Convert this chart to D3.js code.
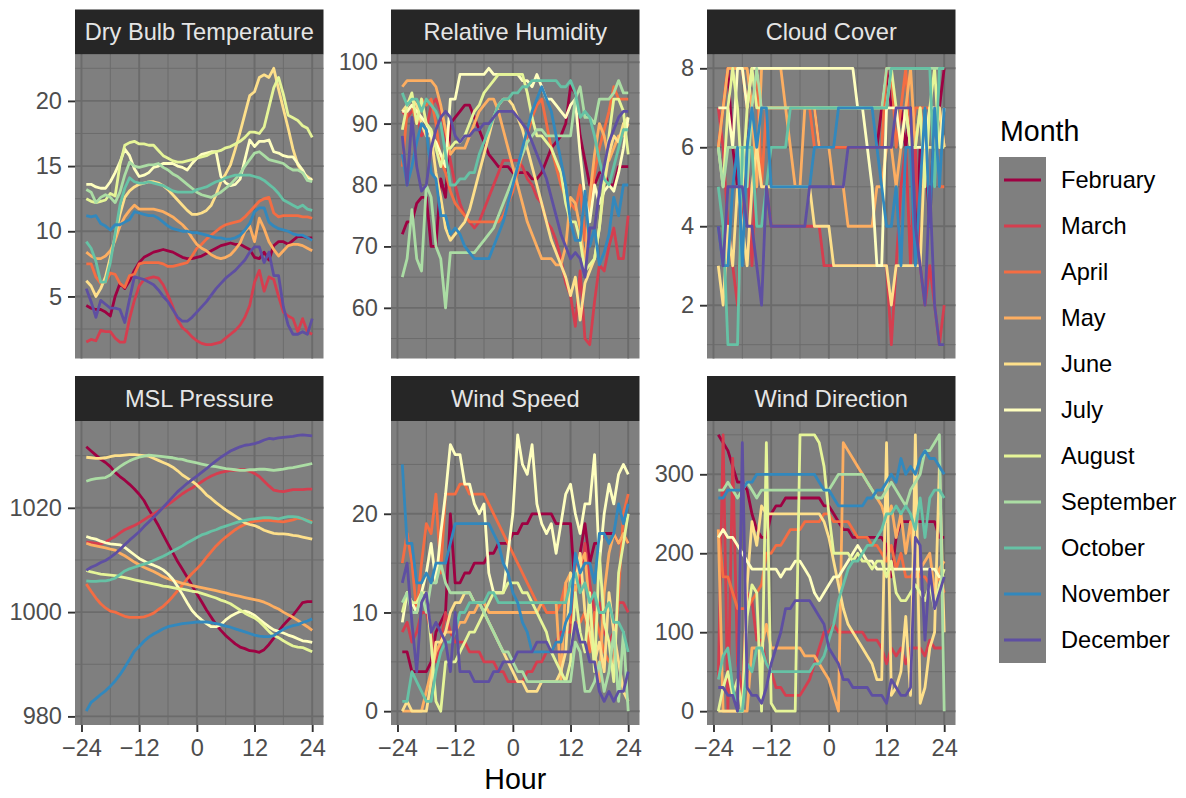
<!DOCTYPE html>
<html>
<head>
<meta charset="utf-8">
<title>Hourly weather by month</title>
<script src="https://cdn.jsdelivr.net/npm/d3@7"></script>
<style>
body { margin: 0; background: #fff; }
svg text { font-family: 'Liberation Sans', Arial, sans-serif; }
</style>
</head>
<body>
<svg width="1186" height="798"></svg>

<script>

var hours = [-23,-22,-21,-20,-19,-18,-17,-16,-15,-14,-13,-12,-11,-10,-9,-8,-7,-6,-5,-4,-3,-2,-1,0,
             1,2,3,4,5,6,7,8,9,10,11,12,13,14,15,16,17,18,19,20,21,22,23,24];

var months = ["February","March","April","May","June","July","August","September","October","November","December"];
var monthColors = ["#9E0142","#D53E4F","#F46D43","#FDAE61","#FEE08B","#FFFFBF","#E6F598","#ABDDA4","#66C2A5","#3288BD","#5E4FA2"];

var variableNames = ["Dry Bulb Temperature","Relative Humidity","Cloud Cover","MSL Pressure","Wind Speed","Wind Direction"];
var yTicks = [[5,10,15,20],[60,70,80,90,100],[2,4,6,8],[980,1000,1020],[0,10,20],[0,100,200,300]];
var xTicks = [-24,-12,0,12,24];

// one row per month (Feb..Dec), one value per hour
var dryBulb = [
 [4.3,4.1,4.0,4.0,3.8,3.5,5.0,6.0, 5.6,6.2,7.0,7.6,8.0,8.2,8.4,8.5, 8.6,8.5,8.4,8.2,8.0,7.9,7.9,8.0, 8.1,8.3,8.5,8.7,8.9,9.0,9.1,9.0, 9.0,8.8,8.6,8.0,7.9,8.4,7.8,8.9, 9.2,9.2,9.0,9.3,9.6,9.6,9.5,9.5],
 [1.5,1.7,1.6,2.4,2.3,2.3,1.8,1.5, 1.5,3.3,4.7,5.8,6.3,6.4,6.5,6.4, 5.9,5.1,4.2,3.2,2.6,2.3,1.9,1.6, 1.4,1.3,1.3,1.4,1.5,1.8,2.1,2.4, 2.8,3.4,4.3,6.1,7.0,5.4,6.5,6.3, 5.0,3.8,3.5,3.3,2.3,3.3,2.3,2.1],
 [7.5,7.5,6.5,6.0,6.1,6.8,6.7,6.0, 5.7,6.6,6.7,7.5,7.6,7.6,7.6,7.6, 7.5,7.3,7.3,7.4,7.5,7.6,8.1,8.7, 9.0,9.4,9.7,10.0,10.3,10.5,10.6,10.7, 10.8,11.1,11.5,11.9,12.3,12.5,12.6,11.4, 11.1,11.2,11.2,11.2,11.2,11.1,11.1,11.0],
 [8.4,8.1,7.9,7.9,8.1,8.5,9.3,10.4, 11.1,11.6,12.0,11.7,11.7,11.7,11.7,11.6, 11.5,11.3,11.1,10.8,10.5,10.1,9.5,9.0, 8.7,8.5,8.2,8.0,7.9,8.0,8.2,8.6, 9.1,10.0,10.4,9.2,11.0,10.2,9.2,8.6, 8.1,8.5,8.9,9.0,9.0,8.9,8.7,8.5],
 [6.2,5.8,5.0,5.6,6.5,8.0,9.6,11.3, 12.6,13.1,13.4,13.6,13.7,13.8,13.8,13.7, 13.5,13.2,12.8,12.4,12.0,11.6,11.3,11.3, 11.4,11.6,12.0,12.8,13.8,14.4,15.1,16.3, 17.6,19.0,20.4,20.7,21.8,22.0,21.8,22.5, 20.9,19.4,17.9,16.3,15.1,14.5,14.2,13.9],
 [13.6,13.6,13.4,13.3,13.3,13.8,14.5,15.3, 16.3,15.8,14.8,14.2,14.3,14.5,14.9,15.0, 15.2,15.2,15.2,15.0,14.9,14.7,15.2,15.6, 15.9,16.0,16.1,16.1,14.2,13.7,13.5,13.6, 14.0,15.5,17.0,16.5,16.9,16.9,17.0,16.1, 16.0,15.8,15.7,15.7,15.2,14.7,14.0,14.0],
 [12.5,12.3,12.2,12.3,12.4,12.9,12.7,15.1, 16.6,16.8,16.9,16.7,16.7,16.6,16.6,16.2, 15.8,15.6,15.4,15.3,15.3,15.4,15.5,15.6, 15.7,15.8,16.0,16.1,16.2,16.4,16.5,16.7, 16.9,17.2,17.6,17.6,17.5,18.0,19.5,21.0, 21.8,20.5,18.9,18.7,18.5,18.1,17.9,17.2],
 [13.2,13.0,12.2,12.6,12.8,12.6,12.2,13.0, 14.3,15.3,15.0,14.9,15.0,15.1,15.1,15.2, 14.9,14.7,14.4,14.2,13.9,13.6,13.3,13.0, 12.8,12.7,12.6,12.8,13.0,13.3,13.6,14.0, 14.4,15.0,15.5,16.0,16.1,15.8,15.5,15.4, 15.3,15.2,14.9,14.7,14.7,14.5,13.9,13.8],
 [9.2,8.7,7.7,6.1,6.1,7.6,9.8,12.0, 13.3,14.1,13.8,13.7,13.7,13.8,13.7,13.6, 13.5,13.3,13.1,13.0,13.0,13.0,13.0,13.2, 13.3,13.4,13.6,13.8,13.9,14.1,14.2,14.3, 14.3,14.3,14.3,14.2,14.1,13.9,13.6,13.3, 12.9,12.4,12.2,12.0,11.8,12.0,11.7,11.6],
 [11.2,11.1,11.2,10.6,10.4,10.1,10.5,10.5, 10.7,10.9,11.5,11.4,11.3,11.2,11.2,11.0, 10.7,10.4,10.2,10.1,10.0,10.0,9.9,9.9, 9.8,9.7,9.6,9.5,9.5,9.4,9.4,9.5, 9.7,10.1,10.6,11.5,11.8,11.8,10.7,10.4, 10.2,10.1,10.0,9.8,9.7,9.7,9.5,9.3],
 [5.6,4.6,3.4,4.7,4.4,4.1,4.1,4.0, 3.0,4.8,6.5,6.4,6.3,6.1,5.9,5.5, 5.0,4.6,4.0,3.4,3.1,3.1,3.4,3.8, 4.2,4.6,5.1,5.6,6.0,6.4,6.7,7.0, 7.4,7.8,8.4,8.8,8.8,7.6,8.4,6.6, 6.6,4.2,2.8,2.1,2.1,2.3,2.1,3.3]
];

var humidity = [
 [72,74,74,77,78,78,70,70, 81,78,90,91,92,93,93,91, 89,87,85,84,83,83,83,82, 82,82,82,81,81,82,84,86, 87,88,90,96,95,88,84,80, 80,82,82,80,80,83,83,83],
 [92,91,92,92,88,89,93,94, 92,88,84,80,77,75,74,73, 74,76,78,80,82,84,84,84, 84,83,81,80,78,77,74,73, 71,68,64,62,57,66,55,54, 61,67,66,70,73,68,68,75],
 [83,92,93,90,94,93,94,90, 84,82,79,77,76,75,74,74, 74,74,74,74,74,75,77,79, 82,85,88,91,93,94,90,86, 83,80,78,77,76,80,71,76, 82,86,89,92,96,94,94,94],
 [96,97,97,97,97,97,97,96, 93,89,85,86,86,86,88,90, 92,93,94,94,92,89,86,83, 80,77,74,72,70,68,68,68, 67,67,70,78,77,73,67,78, 85,90,88,84,86,88,88,90],
 [92,93,94,93,90,88,88,82, 78,73,71,72,73,74,76,79, 82,85,88,91,93,94,94,93, 91,89,86,83,80,77,74,71, 69,67,65,62,65,58,64,66, 68,73,80,85,88,87,90,91],
 [92,92,93,92,91,90,88,87, 85,83,94,94,98,98,98,98, 98,98,99,98,98,98,98,98, 98,97,97,96,98,96,94,94, 93,92,91,93,94,85,78,74, 80,77,79,80,79,82,86,91],
 [89,93,95,90,94,90,89,86, 83,86,86,87,87,88,90,92, 93,95,96,97,98,98,98,98, 98,98,95,91,88,88,87,86, 84,82,77,74,74,71,66,67, 68,73,81,88,94,94,92,85],
 [65,68,76,68,66,80,78,70, 68,60,69,69,69,69,69,69, 70,71,72,73,75,77,79,81, 83,85,87,88,89,89,88,88, 88,88,88,88,94,96,91,91, 90,94,94,94,95,97,95,95],
 [95,93,94,94,92,94,93,92, 90,85,80,80,81,81,82,82, 85,87,89,91,93,94,94,95, 95,96,96,97,97,97,97,97, 97,96,96,97,95,91,92,91, 88,84,81,80,83,86,89,89],
 [85,80,83,87,90,89,82,81, 75,75,72,73,72,70,69,68, 68,68,68,70,72,74,77,80, 83,86,89,92,94,96,94,92, 88,84,80,74,71,71,79,70, 73,67,69,72,78,75,80,80],
 [88,80,91,83,79,80,86,89, 91,92,91,88,87,88,88,89, 89,90,90,91,92,92,92,92, 91,90,89,87,85,83,81,78, 75,72,70,68,69,68,65,73, 73,79,83,87,89,91,92,92]
];

var cloudCover = [
 [6,7,8,6,5,4,6,7, 8,7,7,7,7,7,7,7, 7,7,7,7,7,6,6,6, 6,6,6,6,6,6,6,6, 6,6,7,8,7,7,7,6, 7,3,6,6,4,7,7,8],
 [7,6,4,3,2,5,6,3, 6,5,5,4,4,4,4,4, 4,4,4,4,4,4,3,3, 3,3,3,3,3,3,3,3, 3,3,3,3,1,3,5,6, 3,6,3,2,3,2,1,2],
 [6,7,8,8,8,8,7,8, 8,5,7,7,7,7,7,7, 7,7,7,7,6,6,6,6, 6,6,6,6,6,6,6,6, 6,6,6,8,8,6,7,8, 6,7,7,7,7,7,5,5],
 [6,7,8,8,8,8,8,7, 5,8,8,8,8,8,7,6, 5,5,7,7,7,6,6,6, 5,5,5,4,4,4,4,4, 4,5,5,6,6,5,6,7, 8,6,7,6,7,7,7,6],
 [3,2,4,3,5,4,3,5, 6,5,5,5,5,5,5,5, 5,5,5,5,4,4,4,4, 3,3,3,3,3,3,3,3, 3,3,3,3,2,3,3,3, 3,3,3,6,6,6,7,6],
 [7,7,7,6,8,8,7,8, 8,8,8,8,8,8,8,8, 8,8,8,8,8,8,8,8, 8,8,8,8,8,7,7,6, 5,3,3,7,7,7,6,7, 6,6,6,6,7,7,6,7],
 [6,5,7,8,7,5,7,8, 7,7,7,7,7,7,7,7, 7,7,7,7,7,7,7,7, 7,7,7,7,7,7,7,7, 7,7,7,7,8,7,7,7, 6,6,7,5,7,8,6,6],
 [6,5,6,6,6,6,5,7, 8,7,7,7,7,7,7,7, 7,7,7,7,7,7,7,7, 7,7,7,7,7,7,7,7, 7,7,7,8,8,8,8,8, 8,8,8,8,8,8,8,8],
 [5,4,1,1,1,6,6,6, 4,4,5,6,6,6,6,7, 7,7,7,7,7,7,7,7, 7,7,7,7,7,7,7,7, 7,7,7,7,8,8,8,8, 8,8,8,8,8,5,8,8],
 [4,3,3,5,6,3,6,7, 6,7,7,5,5,5,5,5, 5,5,5,5,6,6,6,6, 6,7,7,7,7,7,7,7, 7,6,5,4,4,5,3,6, 6,3,5,7,4,7,5,7],
 [4,3,5,5,5,5,4,4, 3,2,5,4,4,4,4,4, 4,4,4,5,5,5,5,5, 5,5,5,6,6,6,6,6, 6,6,6,6,6,7,7,7, 7,4,3,2,5,2,1,1]
];

var mslPressure = [
 [1031.7,1030.9,1030.1,1029.3,1028.7,1027.9,1026.8,1026.0, 1025.3,1024.5,1023.6,1022.6,1021.4,1019.7,1018.2,1016.6, 1014.8,1013.1,1011.4,1009.7,1008.2,1006.7,1005.1,1003.5, 1002.0,1000.4,999.0,997.6,996.5,995.5,994.7,993.9, 993.3,993.0,992.6,992.5,992.3,992.8,993.8,995.0, 996.3,997.5,998.5,999.4,1000.6,1001.8,1002.0,1002.0],
 [1013.4,1013.3,1013.2,1013.1,1013.4,1014.0,1014.5,1015.2, 1015.8,1016.2,1016.6,1017.1,1017.7,1018.3,1018.8,1019.4, 1020.0,1020.6,1021.3,1022.0,1022.7,1023.3,1023.8,1024.4, 1025.0,1025.6,1026.1,1026.5,1026.8,1027.0,1027.2,1027.2, 1027.3,1027.3,1027.0,1026.6,1026.0,1025.1,1024.2,1023.4, 1023.2,1023.1,1023.3,1023.5,1023.5,1023.5,1023.6,1023.6],
 [1005.4,1004.0,1002.7,1001.6,1000.8,1000.2,1000.0,999.6, 999.2,999.0,999.0,999.0,999.1,999.4,999.8,1000.5, 1001.1,1002.0,1003.0,1004.1,1005.2,1006.4,1007.4,1008.3, 1009.3,1010.5,1011.6,1012.7,1013.6,1014.4,1015.1,1015.8, 1016.4,1016.8,1017.2,1017.4,1017.5,1017.6,1017.6,1017.5, 1017.4,1017.3,1017.5,1017.7,1018.0,1017.9,1017.6,1017.3],
 [1013.2,1012.9,1012.7,1012.5,1012.3,1012.1,1011.9,1011.3, 1010.8,1010.2,1009.6,1009.1,1008.6,1008.2,1007.8,1007.3, 1006.8,1006.4,1006.1,1005.8,1005.5,1005.3,1005.1,1004.9, 1004.7,1004.5,1004.3,1004.1,1003.9,1003.7,1003.4,1003.2, 1003.0,1002.8,1002.6,1002.4,1002.2,1001.9,1001.5,1001.0, 1000.6,1000.0,999.5,999.0,998.4,997.8,997.2,996.5],
 [1029.7,1029.6,1029.5,1029.5,1029.6,1029.8,1030.0,1030.0, 1030.1,1030.2,1030.2,1030.1,1030.0,1029.9,1029.5,1029.1, 1028.7,1028.3,1027.8,1027.1,1026.3,1025.7,1025.1,1024.4, 1023.5,1022.5,1021.8,1021.0,1020.3,1019.6,1019.0,1018.4, 1017.8,1017.1,1016.8,1016.6,1016.2,1015.7,1015.4,1015.1, 1015.0,1015.0,1014.9,1014.7,1014.6,1014.4,1014.2,1014.0],
 [1014.5,1014.2,1014.0,1013.6,1013.3,1013.1,1013.0,1012.9, 1012.4,1011.7,1011.0,1010.3,1009.8,1009.3,1009.0,1008.6, 1008.1,1007.3,1006.3,1004.9,1003.4,1001.8,1000.3,999.3, 998.5,997.8,997.2,997.2,997.6,998.5,999.2,999.7, 1000.1,1000.2,999.9,999.4,998.6,997.9,997.2,996.6, 996.3,996.0,995.6,995.3,994.9,994.5,994.4,994.2],
 [1008.0,1007.7,1007.5,1007.3,1007.2,1007.1,1007.0,1006.8, 1006.6,1006.4,1006.2,1006.0,1005.8,1005.6,1005.4,1005.2, 1005.0,1004.9,1004.7,1004.5,1004.4,1004.2,1004.0,1003.9, 1003.6,1003.3,1003.0,1002.7,1002.3,1002.0,1001.6,1001.0, 1000.4,999.8,999.3,998.9,998.2,997.3,996.3,995.5, 995.1,994.5,994.0,993.5,993.3,993.2,992.8,992.4],
 [1025.1,1025.4,1025.6,1025.7,1025.8,1026.3,1027.2,1027.9, 1028.5,1029.0,1029.4,1029.7,1029.9,1030.1,1030.0,1029.9, 1029.8,1029.7,1029.6,1029.4,1029.3,1029.0,1028.8,1028.6, 1028.4,1028.2,1028.0,1027.9,1027.7,1027.5,1027.4,1027.3, 1027.2,1027.2,1027.3,1027.3,1027.4,1027.4,1027.3,1027.2, 1027.3,1027.4,1027.6,1027.7,1027.9,1028.1,1028.3,1028.5],
 [1006.0,1005.9,1005.9,1006.0,1006.0,1006.2,1006.5,1007.2, 1007.9,1008.3,1008.6,1008.9,1009.2,1009.5,1009.9,1010.3, 1010.7,1011.2,1011.7,1012.2,1012.7,1013.3,1013.8,1014.3, 1014.8,1015.1,1015.5,1015.8,1016.2,1016.5,1016.8,1017.1, 1017.4,1017.6,1017.8,1017.9,1018.0,1018.1,1018.1,1018.0, 1017.9,1018.1,1018.3,1018.3,1018.2,1017.9,1017.5,1017.1],
 [981.0,982.7,983.4,984.2,984.9,985.8,986.8,988.0, 989.4,990.9,992.5,993.4,994.4,995.2,995.8,996.3, 996.8,997.2,997.4,997.6,997.8,997.9,998.0,998.1, 998.1,998.1,998.0,997.8,997.6,997.3,997.1,996.8, 996.5,996.2,995.9,995.6,995.4,995.3,995.3,995.5, 996.1,996.7,997.1,997.4,997.6,998.0,998.3,998.7],
 [1008.0,1008.6,1009.0,1009.5,1009.9,1010.5,1011.2,1012.0, 1012.9,1013.8,1014.6,1015.4,1016.4,1017.3,1018.2,1019.1, 1020.1,1021.1,1022.1,1023.1,1023.9,1024.7,1025.4,1026.1, 1026.8,1027.5,1028.3,1029.0,1029.7,1030.3,1030.9,1031.3, 1031.7,1032.0,1032.1,1032.3,1032.6,1033.0,1033.3,1033.2, 1033.4,1033.5,1033.6,1033.7,1033.9,1034.0,1033.9,1033.8]
];

var windSpeed = [
 [6,6,4,4,4,4,5,8, 9,10,20,13,13,14,14,15, 15,15,16,16,17,17,17,18, 18,19,19,20,20,20,20,20, 19,19,19,19,12,16,19,15, 17,17,18,18,18,17,18,17],
 [8,9,7,8,10,10,8,5, 7,10,8,7,7,7,6,6, 6,5,5,5,4,4,3,3, 3,3,4,4,5,5,6,6, 7,8,8,8,15,13,17,13, 10,11,8,7,8,11,11,10],
 [15,18,15,10,15,19,18,22, 14,22,22,22,23,23,22,22, 22,22,21,20,19,18,17,16, 15,14,13,12,11,11,10,10, 10,11,13,9,9,9,10,6, 10,8,6,5,5,12,20,22],
 [0,0,0,0,0,2,4,6, 7,8,8,8,9,9,10,10, 11,11,10,10,10,10,10,10, 10,10,10,10,10,11,11,11, 11,3,13,14,12,15,16,10, 6,3,12,16,18,17,18,17],
 [0,1,0,0,0,0,3,7, 7,8,10,11,11,12,12,11, 11,10,9,8,7,6,5,4, 3,3,2,2,2,3,3,3, 3,4,6,14,13,16,10,8, 5,7,4,12,8,5,2,1],
 [9,12,11,10,12,14,17,13, 18,22,27,26,26,23,23,21, 20,21,14,12,12,12,16,20, 28,25,24,27,21,19,18,19, 16,19,22,23,20,18,21,21, 26,15,20,23,21,24,25,24],
 [10,12,11,11,12,12,7,1, 0,5,5,5,6,7,8,8, 9,10,11,12,12,12,13,13, 13,12,12,11,10,9,8,6, 5,4,3,5,12,8,6,12, 4,16,9,7,3,14,17,20],
 [11,12,10,10,12,10,13,13, 15,13,12,12,12,12,12,11, 11,10,9,8,7,6,6,5, 4,4,3,3,3,3,3,3, 3,3,3,3,7,6,2,2, 3,5,2,4,8,1,8,0],
 [1,1,4,3,2,1,1,4, 6,7,7,8,10,10,11,11, 11,11,12,12,11,11,11,11, 11,11,11,11,11,11,11,11, 11,11,11,13,14,12,13,11, 12,10,10,11,9,9,8,6],
 [25,17,17,13,13,14,13,15, 15,15,17,19,19,19,19,19, 19,19,19,18,17,15,14,12, 11,9,8,6,6,6,6,6, 7,7,9,10,16,14,15,15, 13,18,18,17,18,21,19,21],
 [13,15,9,4,11,12,8,9, 8,7,4,10,4,4,4,3, 3,3,3,4,4,5,5,5, 6,6,6,6,7,7,7,6, 6,6,6,6,9,7,7,5, 5,2,1,2,1,2,2,4]
];

var windDirection = [
 [350,340,330,310,290,290,280,250, 230,220,220,250,260,260,270,270, 270,270,270,270,270,270,260,260, 250,240,230,230,220,220,220,220, 220,220,220,210,170,220,240,240, 240,240,240,240,240,240,220,220],
 [40,350,0,320,60,20,150,140, 90,90,60,50,30,30,20,20, 20,20,30,40,60,80,100,100, 110,100,100,100,100,100,100,90, 90,90,80,60,80,70,80,60, 80,80,80,70,90,80,80,80],
 [230,170,170,150,130,130,130,140, 150,160,200,200,210,210,220,230, 230,230,240,240,240,240,250,250, 240,240,240,240,230,220,220,220, 210,210,200,190,210,180,200,170, 170,180,170,170,160,160,170,150],
 [230,0,0,0,0,0,0,80, 80,80,110,80,80,80,80,80, 80,80,70,70,70,60,50,40, 20,0,340,330,320,310,300,290, 280,270,260,240,260,220,250,200, 240,170,180,190,200,150,180,190],
 [0,0,0,0,0,0,160,240, 210,260,250,250,250,250,250,250, 250,250,250,250,250,250,240,220, 190,160,130,110,100,90,80,70, 60,40,40,340,20,30,50,120, 20,350,10,30,80,100,310,100],
 [220,230,220,220,210,200,190,180, 180,180,180,180,180,170,180,180, 190,190,180,170,150,140,150,160, 170,170,180,190,200,210,200,190, 190,180,180,180,180,180,180,180, 180,180,180,180,180,180,170,170],
 [0,30,50,20,40,0,120,160, 150,0,340,10,0,0,0,0, 0,350,350,350,350,340,310,250, 200,200,200,200,190,200,190,190, 180,190,190,170,190,150,140,140, 150,160,150,140,160,130,160,180],
 [280,280,290,280,270,280,290,280, 270,280,280,280,280,280,280,280, 280,280,280,280,280,280,280,280, 290,300,300,300,300,300,300,290, 280,270,270,280,290,280,270,260, 280,290,300,330,330,340,350,0],
 [40,70,80,30,0,0,60,50, 80,80,60,50,50,50,50,50, 50,50,50,50,60,60,70,90, 110,140,160,180,190,190,200,210, 210,220,230,250,250,260,250,260, 250,230,270,220,270,280,280,270],
 [270,270,280,280,280,280,290,290, 300,300,300,300,300,300,300,300, 300,300,300,300,300,290,280,280, 270,260,260,260,260,260,260,270, 270,280,280,290,300,290,320,300, 310,300,320,330,320,320,310,300],
 [30,30,20,20,0,340,30,20, 20,10,30,60,80,100,130,130, 140,140,140,140,130,120,110,80, 70,60,40,40,30,30,30,30, 20,20,20,10,40,30,20,20, 30,220,210,90,180,130,150,170]
];

var panelData = [dryBulb, humidity, cloudCover, mslPressure, windSpeed, windDirection];

// layout (pixels)
var colX = [75, 391, 707];
var rowY = [54.5, 421];
var panelW = 248.5, panelH = 304, stripH = 45;

var svg = d3.select("svg");
var fmt = d3.format("d");

// ggplot-style 5% expansion
function expand(ext) {
	var r = ext[1] - ext[0];
	return [ext[0] - 0.05 * r, ext[1] + 0.05 * r];
}

function minorBreaks(major, dom) {
	var step = major[1] - major[0], out = [];
	for (var v = major[0] - step / 2; v <= dom[1]; v += step) {
		if (v >= dom[0] && major.indexOf(v) < 0) out.push(v);
	}
	return out;
}

variableNames.forEach(function (name, i) {
	var col = i % 3, row = Math.floor(i / 3);
	var x0 = colX[col], y0 = rowY[row];
	var series = panelData[i];

	var x = d3.scaleLinear().domain(expand(d3.extent(hours))).range([x0, x0 + panelW]);
	var y = d3.scaleLinear().domain(expand(d3.extent(d3.merge(series)))).range([y0 + panelH, y0]);

	var g = svg.append("g").attr("class", "panel");

	g.append("rect")
		.attr("x", x0).attr("y", y0)
		.attr("width", panelW).attr("height", panelH)
		.attr("fill", "#7f7f7f");

	// grid
	var xMinor = minorBreaks(xTicks, x.domain());
	var yMinor = minorBreaks(yTicks[i], y.domain());

	g.selectAll("line.vminor").data(xMinor).enter().append("line")
		.attr("x1", x).attr("x2", x).attr("y1", y0).attr("y2", y0 + panelH)
		.attr("stroke", "#6b6b6b").attr("stroke-width", 0.95);
	g.selectAll("line.hminor").data(yMinor).enter().append("line")
		.attr("y1", y).attr("y2", y).attr("x1", x0).attr("x2", x0 + panelW)
		.attr("stroke", "#6b6b6b").attr("stroke-width", 0.95);
	g.selectAll("line.vmajor").data(xTicks).enter().append("line")
		.attr("x1", x).attr("x2", x).attr("y1", y0).attr("y2", y0 + panelH)
		.attr("stroke", "#6b6b6b").attr("stroke-width", 1.9);
	g.selectAll("line.hmajor").data(yTicks[i]).enter().append("line")
		.attr("y1", y).attr("y2", y).attr("x1", x0).attr("x2", x0 + panelW)
		.attr("stroke", "#6b6b6b").attr("stroke-width", 1.9);

	// one line per month
	var line = d3.line()
		.x(function (d, k) { return x(hours[k]); })
		.y(function (d) { return y(d); });

	g.selectAll("path.month").data(series).enter().append("path")
		.attr("class", "month")
		.attr("d", line)
		.attr("fill", "none")
		.attr("stroke", function (d, m) { return monthColors[m]; })
		.attr("stroke-width", 2.8)
		.attr("stroke-linejoin", "round");

	// strip
	g.append("rect")
		.attr("x", x0).attr("y", y0 - stripH)
		.attr("width", panelW).attr("height", stripH)
		.attr("fill", "#262626");
	g.append("text")
		.attr("x", x0 + panelW / 2).attr("y", y0 - stripH / 2)
		.attr("dy", "0.35em")
		.attr("text-anchor", "middle")
		.attr("fill", "#e5e5e5")
		.style("font-size", "23.6px")
		.text(name);

	// y axis
	var yAxis = g.append("g")
		.attr("transform", "translate(" + x0 + ",0)")
		.call(d3.axisLeft(y).tickValues(yTicks[i]).tickSize(7).tickPadding(6).tickFormat(fmt));
	yAxis.select(".domain").remove();
	yAxis.selectAll(".tick line").attr("stroke", "#333333").attr("stroke-width", 1.9);
	yAxis.selectAll(".tick text").attr("fill", "#4d4d4d").style("font-size", "23.6px")
		.style("font-family", "'Liberation Sans', Arial, sans-serif");

	// x axis only on the bottom row
	if (row === 1) {
		var xAxis = g.append("g")
			.attr("transform", "translate(0," + (y0 + panelH) + ")")
			.call(d3.axisBottom(x).tickValues(xTicks).tickSize(7).tickPadding(7).tickFormat(fmt));
		xAxis.select(".domain").remove();
		xAxis.selectAll(".tick line").attr("stroke", "#333333").attr("stroke-width", 1.9);
		xAxis.selectAll(".tick text").attr("fill", "#4d4d4d").style("font-size", "23.6px")
			.style("font-family", "'Liberation Sans', Arial, sans-serif");
	}
});

// axis title
svg.append("text")
	.attr("x", (colX[0] + colX[2] + panelW) / 2).attr("y", 789)
	.attr("text-anchor", "middle")
	.attr("fill", "#000")
	.style("font-size", "28.6px")
	.text("Hour");

// legend
var legend = svg.append("g");
legend.append("text")
	.attr("x", 1000).attr("y", 141)
	.attr("fill", "#000")
	.style("font-size", "28.6px")
	.text("Month");

var keyH = 46, keyTop = 157;
legend.append("rect")
	.attr("x", 999).attr("y", keyTop)
	.attr("width", 47).attr("height", keyH * months.length)
	.attr("fill", "#7f7f7f");

var keys = legend.selectAll("g.key").data(months).enter().append("g")
	.attr("class", "key")
	.attr("transform", function (d, k) { return "translate(0," + (keyTop + keyH * k + keyH / 2) + ")"; });
keys.append("line")
	.attr("x1", 1004).attr("x2", 1041)
	.attr("stroke", function (d, k) { return monthColors[k]; })
	.attr("stroke-width", 2.8);
keys.append("text")
	.attr("x", 1061).attr("dy", "0.35em")
	.attr("fill", "#000")
	.style("font-size", "23.6px")
	.text(function (d) { return d; });

</script>
</body>
</html>
